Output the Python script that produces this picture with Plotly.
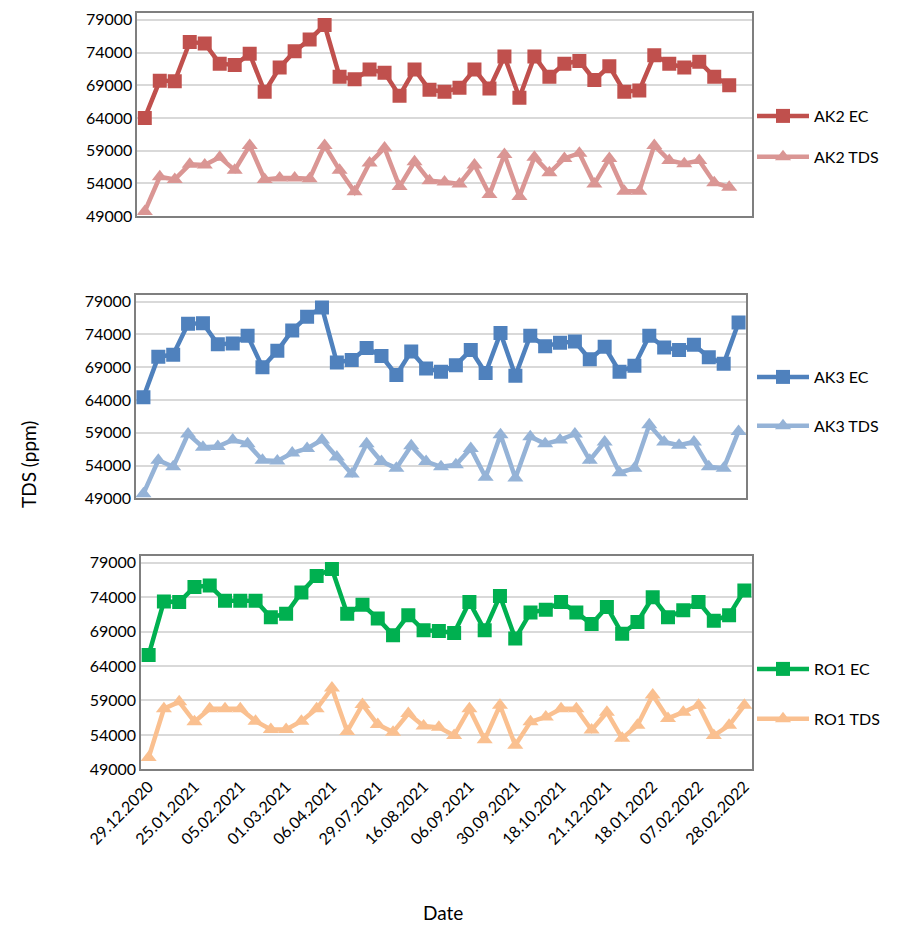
import plotly.graph_objects as go

# Sampling-date tick labels (every third sample is labelled)
tick_labels = ["29.12.2020", "25.01.2021", "05.02.2021", "01.03.2021", "06.04.2021",
               "29.07.2021", "16.08.2021", "06.09.2021", "30.09.2021", "18.10.2021",
               "21.12.2021", "18.01.2022", "07.02.2022", "28.02.2022"]
y_ticks = [49000, 54000, 59000, 64000, 69000, 74000, 79000]

# AK2 well
ak2_ec = [64000, 69700, 69600, 75600, 75400, 72300, 72100, 73800, 68000, 71700,
          74200, 76000, 78200, 70300, 69900, 71400, 70900, 67400, 71400, 68300,
          68000, 68600, 71400, 68500, 73400, 67100, 73400, 70300, 72300, 72700,
          69800, 71900, 68000, 68200, 73600, 72300, 71700, 72600, 70300, 69000]
ak2_tds = [49700, 55000, 54600, 56900, 56800, 58000, 56000, 59800, 54600, 54800,
           54800, 54700, 59800, 56000, 52700, 57100, 59400, 53500, 57300, 54400,
           54200, 53900, 56800, 52300, 58400, 52000, 58000, 55600, 57800, 58600,
           53900, 57800, 52800, 52800, 59800, 57500, 57000, 57500, 54100, 53400]

# AK3 well
ak3_ec = [64400, 70600, 70900, 75600, 75700, 72500, 72600, 73800, 69000, 71500,
          74600, 76700, 78100, 69700, 70100, 71900, 70700, 67800, 71400, 68800,
          68300, 69300, 71600, 68100, 74200, 67700, 73800, 72200, 72700, 72900,
          70200, 72100, 68300, 69200, 73800, 72000, 71600, 72400, 70500, 69500,
          75800]
ak3_tds = [49700, 54800, 53800, 58800, 56800, 56900, 57900, 57300, 54800, 54700,
           55900, 56600, 57900, 55300, 52700, 57300, 54600, 53600, 57000, 54600,
           53800, 54100, 56600, 52200, 58700, 52100, 58400, 57300, 57900, 58800,
           54800, 57600, 52900, 53600, 60200, 57600, 57100, 57600, 53800, 53600,
           59200]

# RO1 well
ro1_ec = [65600, 73400, 73300, 75500, 75700, 73500, 73500, 73500, 71100, 71600,
          74700, 77100, 78100, 71600, 72900, 70900, 68500, 71400, 69200, 69100,
          68800, 73300, 69200, 74200, 68000, 71800, 72200, 73300, 71800, 70100,
          72600, 68700, 70400, 74000, 71100, 72100, 73300, 70600, 71400, 75000]
ro1_tds = [50700, 57800, 58800, 55900, 57800, 57800, 57800, 56000, 54800, 54800,
           56000, 57800, 60800, 54500, 58400, 55500, 54400, 57100, 55300, 55100,
           53900, 57800, 53300, 58300, 52500, 55900, 56600, 57800, 57800, 54700,
           57300, 53500, 55400, 59800, 56400, 57300, 58300, 53900, 55400, 58300]

W, H = 903, 926
FONT = "Lato, 'Open Sans', sans-serif"

# panel boxes in pixels: (left, right, top, bottom, number of category slots)
panels = [
    (137.3, 751.7, 13.3, 216.0, 41),
    (136.0, 746.0, 295.0, 498.3, 41),
    (141.0, 752.0, 556.0, 769.3, 40),
]

series = [
    (("AK2 EC", ak2_ec, "#C0504D"), ("AK2 TDS", ak2_tds, "#DA9694")),
    (("AK3 EC", ak3_ec, "#4F81BD"), ("AK3 TDS", ak3_tds, "#95B3D7")),
    (("RO1 EC", ro1_ec, "#00B050"), ("RO1 TDS", ro1_tds, "#FAC090")),
]

legend_tops = [99, 360, 652]
legend_gaps = [17, 25, 26]

fig = go.Figure()
layout = dict(
    width=W, height=H,
    margin=dict(l=0, r=0, t=0, b=0, autoexpand=False),
    paper_bgcolor="white", plot_bgcolor="white",
    font=dict(family=FONT, size=16, color="#000000"),
)

for i, ((l, r, t, b, nslots), (ec, tds)) in enumerate(zip(panels, series)):
    n = i + 1
    suffix = "" if n == 1 else str(n)
    leg = "legend" if n == 1 else f"legend{n}"
    for name, vals, color, sym, size in ((ec[0], ec[1], ec[2], "square", 14),
                                         (tds[0], tds[1], tds[2], "triangle-up", 14)):
        fig.add_trace(go.Scatter(
            x=list(range(len(vals))), y=vals, name=name,
            mode="lines+markers",
            line=dict(color=color, width=4.5),
            marker=dict(symbol=sym, size=size, color=color),
            xaxis="x" + suffix, yaxis="y" + suffix,
            legend=leg, legendgroup=name,
        ))
    layout["xaxis" + suffix] = dict(
        domain=[l / W, r / W], range=[-0.5, nslots - 0.5],
        anchor="y" + suffix, automargin=False,
        showgrid=False, zeroline=False,
        showline=True, linecolor="#7F7F7F", linewidth=1.5, mirror=True,
        tickmode="array",
        tickvals=list(range(0, 40, 3)) if n == 3 else [],
        ticktext=tick_labels if n == 3 else [],
        showticklabels=(n == 3), tickangle=-45,
        ticks="", tickfont=dict(size=16, family=FONT, color="#000000"),
    )
    layout["yaxis" + suffix] = dict(
        domain=[1 - b / H, 1 - t / H], range=[49000, 80000],
        anchor="x" + suffix, automargin=False,
        tickmode="array", tickvals=y_ticks, ticktext=[str(v) for v in y_ticks],
        showgrid=True, gridcolor="#D9D9D9", gridwidth=1.5,
        zeroline=False,
        showline=True, linecolor="#7F7F7F", linewidth=1.5, mirror=True,
        ticks="", tickfont=dict(size=16, family=FONT, color="#000000"),
    )
    layout[leg] = dict(
        x=752 / W, xanchor="left",
        y=1 - legend_tops[i] / H, yanchor="top",
        bgcolor="rgba(0,0,0,0)", borderwidth=0,
        font=dict(size=16, family=FONT, color="#000000"),
        tracegroupgap=legend_gaps[i], itemwidth=52,
    )

layout["annotations"] = [
    dict(text="TDS (ppm)", x=28 / W, y=1 - 465 / H, xref="paper", yref="paper",
         xanchor="center", yanchor="middle",
         showarrow=False, textangle=-90, font=dict(size=19, family=FONT)),
    dict(text="Date", x=443 / W, y=1 - 912 / H, xref="paper", yref="paper",
         xanchor="center", yanchor="middle",
         showarrow=False, font=dict(size=19, family=FONT)),
]

fig.update_layout(**layout)
fig.write_html("out.html")
